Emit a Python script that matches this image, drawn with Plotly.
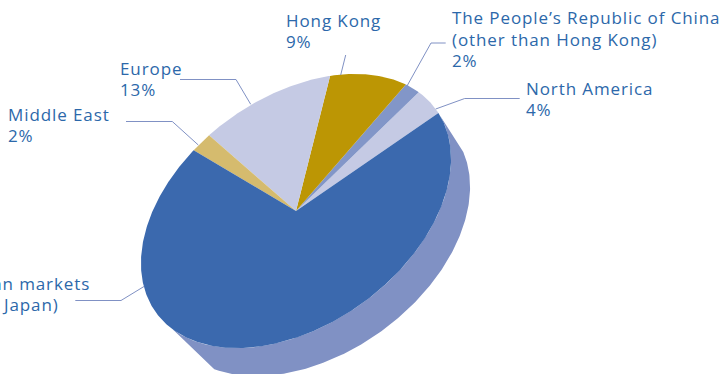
import numpy as np
import plotly.graph_objects as go

# Revenue share by region, in percent, counter-clockwise from the start angle
regions = ["North America", "The People's Republic of China", "Hong Kong",
           "Europe", "Middle East", "Asian markets"]
shares = [4, 2, 9, 13, 2, 70]
slice_colors = ["#C5CAE4", "#8296C8", "#BC9604", "#C5CAE4", "#D5BB6E", "#3B69AE"]
side_color = "#8091C4"
text_color = "#2C68AA"
leader_color = "#8091C4"

# Tilted disc, in pixel units of the page
CENTER = (296.0, 211.0)
SEMI_MAJOR, SEMI_MINOR = 173.0, 113.6
TILT = np.radians(36.0)
START_DEG = -2.2
DEPTH = (19.0, 28.0)

FONT = "Open Sans"
FONT_SIZE = 17
TRACKING = 0.9  # extra px between letters of the labels

# (x, first baseline, anchor, line gap, lines)
label_blocks = [
    (286, 26.5, "left", 21, ["Hong Kong", "9%"]),
    (120, 75, "left", 21, ["Europe", "13%"]),
    (8, 120.5, "left", 21.5, ["Middle East", "2%"]),
    (452, 24, "left", 21.5, ["The People\u2019s Republic of China", "(other than Hong Kong)", "2%"]),
    (526, 95, "left", 21, ["North America", "4%"]),
    (90, 290, "right", 0, ["Asian markets"]),
    (59, 311, "right", 0, ["(other than Japan)"]),
]

leader_paths = [
    [(345.7, 55), (340.7, 75)],
    [(445.7, 43), (431, 43), (407, 86)],
    [(519.7, 98.5), (464.7, 98.5), (435.7, 109)],
    [(180, 79.5), (236, 79.5), (250.7, 104.3)],
    [(126, 121.5), (172.3, 121.5), (198.3, 145)],
    [(75.3, 300.5), (121, 300.5), (144.3, 286.3)],
]


def disc_points(deg, center=CENTER):
    """Project angles on the disc to page coordinates (y grows downward)."""
    t = np.radians(np.asarray(deg, dtype=float))
    u = SEMI_MAJOR * np.cos(t)
    v = SEMI_MINOR * np.sin(t)
    x = center[0] + u * np.cos(TILT) - v * np.sin(TILT)
    y = center[1] - (u * np.sin(TILT) + v * np.cos(TILT))
    return x, y


fig = go.Figure()

# Side wall: the lower rim joined to the edge of the top face
lower_center = (CENTER[0] + DEPTH[0], CENTER[1] + DEPTH[1])
rim_x, rim_y = disc_points(np.linspace(-8.5, -156, 200), lower_center)
top_x, top_y = disc_points(np.linspace(-168.2, -2.2, 200))
fig.add_trace(go.Scatter(
    x=np.concatenate([rim_x, top_x]), y=np.concatenate([rim_y, top_y]),
    mode="lines", fill="toself", fillcolor=side_color, line=dict(width=0),
    hoverinfo="skip", showlegend=False,
))

# Top face, one wedge per region
edges = START_DEG + np.concatenate([[0], np.cumsum(shares)]) * 3.6
for name, color, a0, a1 in zip(regions, slice_colors, edges[:-1], edges[1:]):
    arc_x, arc_y = disc_points(np.linspace(a0, a1, max(int(a1 - a0) * 2, 12)))
    fig.add_trace(go.Scatter(
        x=np.concatenate([[CENTER[0]], arc_x, [CENTER[0]]]),
        y=np.concatenate([[CENTER[1]], arc_y, [CENTER[1]]]),
        mode="lines", fill="toself", fillcolor=color, line=dict(width=0),
        name=name, hoverinfo="name", showlegend=False,
    ))

# Leader lines from each label to its wedge
for path in leader_paths:
    xs, ys = zip(*path)
    fig.add_trace(go.Scatter(
        x=xs, y=ys, mode="lines", line=dict(color=leader_color, width=1),
        hoverinfo="skip", showlegend=False,
    ))

annotations = []
for x, baseline, anchor, gap, lines in label_blocks:
    for i, line in enumerate(lines):
        annotations.append(dict(
            x=x, y=baseline + i * gap - FONT_SIZE * 0.36,
            xref="x", yref="y", xanchor=anchor, yanchor="middle",
            text=line, showarrow=False, align=anchor,
            font=dict(family=FONT, size=FONT_SIZE, color=text_color),
            borderpad=0,
            xshift=-1 if anchor == "left" else 1,
        ))

fig.update_layout(
    width=727, height=374, autosize=False,
    margin=dict(l=0, r=0, t=0, b=0),
    paper_bgcolor="white", plot_bgcolor="white",
    xaxis=dict(range=[0, 727], visible=False, fixedrange=True),
    yaxis=dict(range=[374, 0], visible=False, fixedrange=True),
    annotations=annotations,
)

tracking_js = (
    "document.querySelectorAll('.annotation-text')"
    ".forEach(function(t){t.style.letterSpacing='%spx';});" % TRACKING
)
fig.write_html("out.html", config=dict(displayModeBar=False), post_script=tracking_js)
